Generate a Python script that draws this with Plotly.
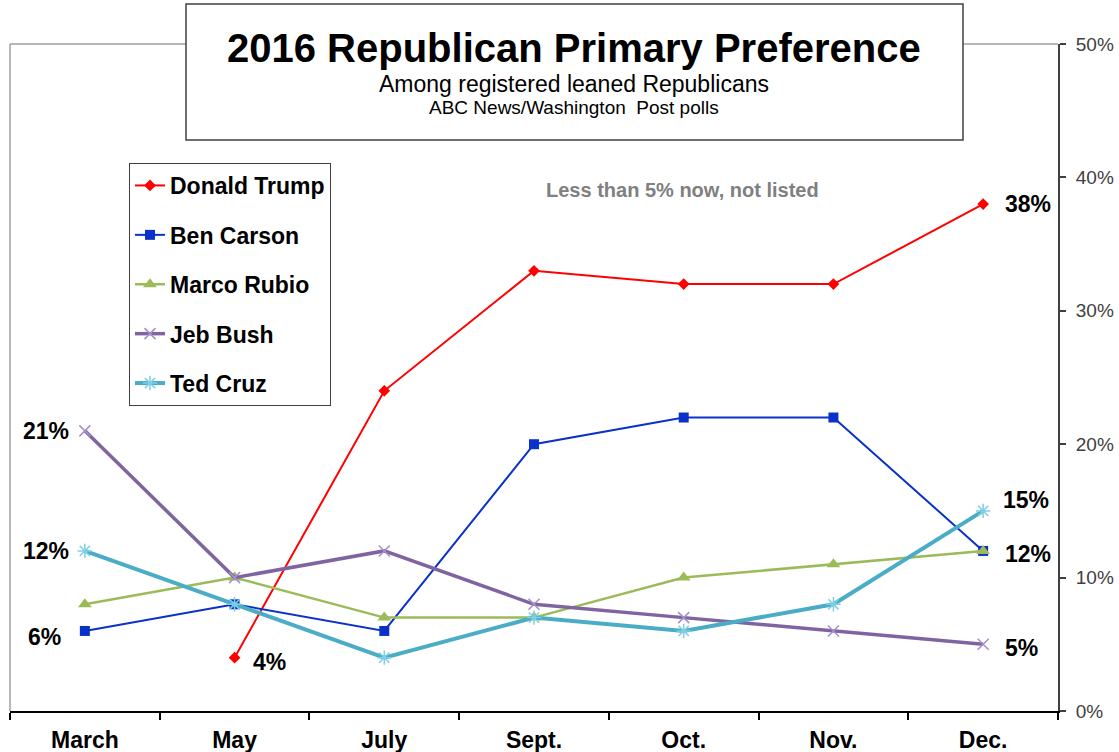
import plotly.graph_objects as go

months = ["March", "May", "July", "Sept.", "Oct.", "Nov.", "Dec."]
trump = [None, 4, 24, 33, 32, 32, 38]
carson = [6, 8, 6, 20, 22, 22, 12]
rubio = [8, 10, 7, 7, 10, 11, 12]
bush = [21, 10, 12, 8, 7, 6, 5]
cruz = [12, 8, 4, 7, 6, 8, 15]
y_ticks = [0, 10, 20, 30, 40, 50]
y_tick_labels = ["0%", "10%", "20%", "30%", "40%", "50%"]

FONT = "Arial, 'Liberation Sans', sans-serif"
W, H = 1119, 752
L, R, T, B = 10, 1058, 44, 711

def px(x):
    return (x - L) / (R - L)

def py(y):
    return (B - y) / (B - T)

series = [
    ("Donald Trump", trump, "#FF0000", 2, "diamond", 9, "#FF0000", 0),
    ("Ben Carson", carson, "#0A32C8", 2, "square", 10, "#0A32C8", 0),
    ("Marco Rubio", rubio, "#9BBB59", 2.5, "triangle-up", 12, "#9BBB59", 0),
    ("Jeb Bush", bush, "#8064A2", 3.5, "x-thin", 11, "#A58FCB", 1.5),
    ("Ted Cruz", cruz, "#4BACC6", 4, "asterisk", 12, "#7ECFE4", 1.5),
]

fig = go.Figure()
for i, (name, vals, col, lw, sym, ms, mcol, mlw) in enumerate(series):
    fig.add_trace(go.Scatter(
        x=months, y=vals, name=name, mode="lines+markers",
        line=dict(color=col, width=lw),
        marker=dict(symbol=sym, size=ms, color=mcol,
                    line=dict(color=mcol, width=mlw)),
        legendgroup=name, connectgaps=False,
    ))

shapes = [
    dict(type="line", xref="paper", yref="paper", x0=0, x1=1, y0=1, y1=1,
         line=dict(color="#A0A0A0", width=1.5)),
    dict(type="line", xref="paper", yref="paper", x0=0, x1=0, y0=0, y1=1,
         line=dict(color="#A0A0A0", width=1.5)),
    dict(type="rect", xref="paper", yref="paper",
         x0=px(186), x1=px(963), y0=py(140), y1=py(4),
         fillcolor="white", line=dict(color="#404040", width=1.5)),
]

def pann(text, x, y, size, color="black"):
    return dict(text=text, xref="paper", yref="paper", x=px(x), y=py(y),
                xanchor="center", yanchor="middle", showarrow=False,
                font=dict(family=FONT, size=size, color=color))

annotations = [
    pann("<b>2016 Republican Primary Preference</b>", 574, 48, 40),
    pann("Among registered leaned Republicans", 574, 84, 23),
    pann("ABC News/Washington  Post polls", 574, 108, 19),
    pann("<b>Less than 5% now, not listed</b>", 682, 190, 20, "#808080"),
]

lab_font = dict(family=FONT, size=23, color="black")
labels = [
    (months[0], bush[0], "21%", "right", -14, 0),
    (months[0], cruz[0], "12%", "right", -14, 0),
    (months[0], carson[0], "6%", "right", -22, -6),
    (months[1], trump[1], "4%", "left", 16, -4),
    (months[6], trump[6], "38%", "left", 20, 0),
    (months[6], cruz[6], "15%", "left", 18, 11),
    (months[6], carson[6], "12%", "left", 20, -3),
    (months[6], bush[6], "5%", "left", 20, -4),
]
for x, y, t, xa, xs, ys in labels:
    annotations.append(dict(text="<b>%s</b>" % t, x=x, y=y, xref="x", yref="y",
                            xanchor=xa, yanchor="middle", xshift=xs, yshift=ys,
                            showarrow=False, font=lab_font))

fig.update_layout(
    width=W, height=H,
    margin=dict(l=L, r=W - R, t=T, b=H - B, pad=0, autoexpand=False),
    paper_bgcolor="white", plot_bgcolor="white",
    showlegend=True,
    legend=dict(x=px(129), y=py(163), xanchor="left", yanchor="top",
                bgcolor="white", bordercolor="#404040", borderwidth=1,
                font=dict(family=FONT, size=23, color="black", weight="bold"),
                tracegroupgap=16.5, itemwidth=30),
    xaxis=dict(type="category", range=[-0.5, 6.5], showgrid=False, automargin=False,
               showline=True, linecolor="black", linewidth=2,
               ticks="outside", tickson="boundaries", ticklen=7, tickwidth=2, tickcolor="black",
               ticklabelstandoff=7,
               tickfont=dict(family=FONT, size=23, color="black", weight="bold"),
               zeroline=False, fixedrange=True),
    yaxis=dict(side="right", range=[0, 50], tickmode="array", automargin=False,
               tickvals=y_ticks, ticktext=y_tick_labels,
               showgrid=False, zeroline=False,
               showline=True, linecolor="#404040", linewidth=2,
               ticks="outside", ticklen=6, tickwidth=1.5, tickcolor="#404040",
               ticklabelstandoff=6,
               tickfont=dict(family=FONT, size=19, color="#404040")),
    shapes=shapes, annotations=annotations,
)

fig.write_html("out.html", config={"displayModeBar": False},
               post_script="document.body.style.margin='0';")
